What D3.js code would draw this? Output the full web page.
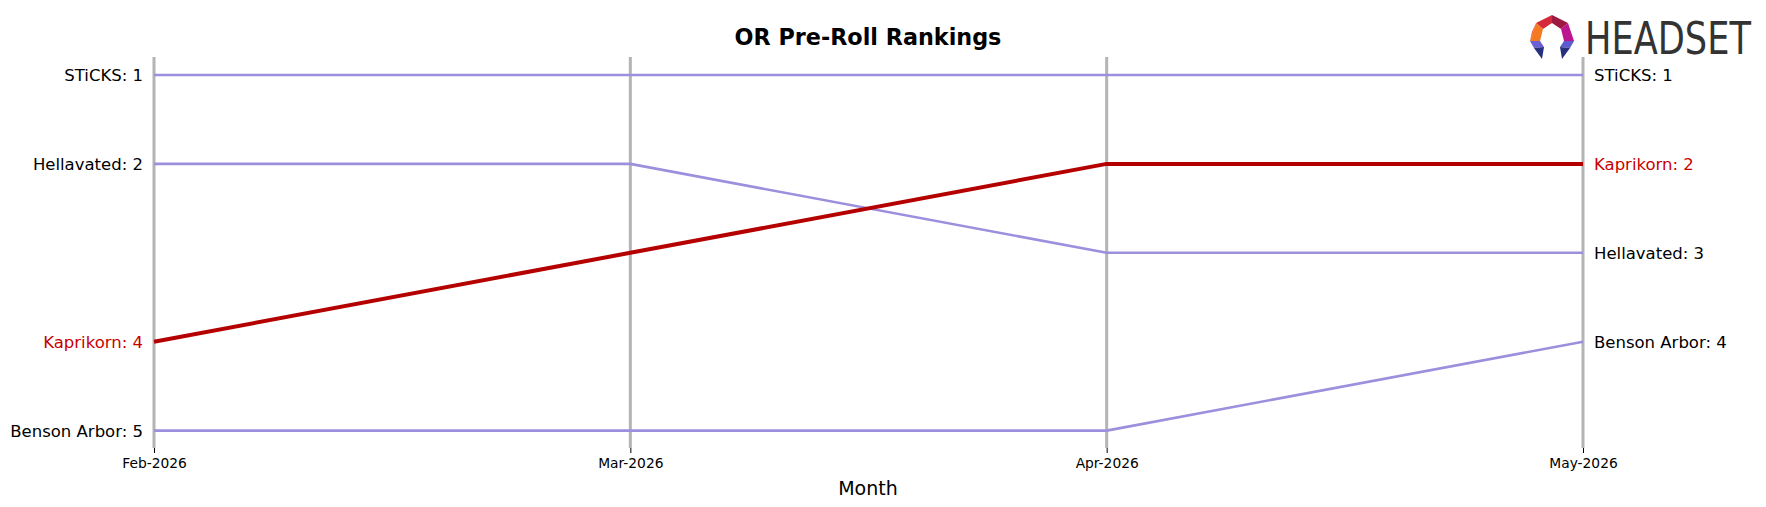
<!DOCTYPE html>
<html>
<head>
<meta charset="utf-8">
<script src="https://cdn.jsdelivr.net/npm/d3@7"></script>
<style>
  html, body { margin: 0; padding: 0; background: #fff; }
  svg { display: block; font-family: "DejaVu Sans", sans-serif; }
</style>
</head>
<body>
<svg id="chart" width="1766" height="507"></svg>
<script>
// ---- data ----
const months = ["Feb-2026", "Mar-2026", "Apr-2026", "May-2026"];
const brands = ["STiCKS", "Hellavated", "Kaprikorn", "Benson Arbor"];
const sticksRanks = [1, 1, 1, 1];
const hellavatedRanks = [2, 2, 3, 3];
const kaprikornRanks = [4, 3, 2, 2];
const bensonArborRanks = [5, 5, 5, 4];
const highlightBrand = "Kaprikorn";
const titleText = "OR Pre-Roll Rankings";
const xAxisLabel = "Month";

const series = [
  { name: brands[0], ranks: sticksRanks },
  { name: brands[1], ranks: hellavatedRanks },
  { name: brands[2], ranks: kaprikornRanks },
  { name: brands[3], ranks: bensonArborRanks }
];

// ---- layout ----
const svg = d3.select("#chart");
const x = d3.scalePoint().domain(months).range([154, 1583]);
const y = d3.scaleLinear().domain([1, 5]).range([75, 430.6]);

const purple = "#9d8fdd";
const red = "#b50000";
const redText = "#c80000";

// vertical gray month lines
svg.append("g").selectAll("line").data(months).join("line")
  .attr("x1", d => x(d)).attr("x2", d => x(d))
  .attr("y1", 57).attr("y2", 448)
  .attr("stroke", "#b4b4b4").attr("stroke-width", 3);

// x axis ticks
const xAxis = d3.axisBottom(x).tickSize(5).tickPadding(5);
const gx = svg.append("g").attr("transform", "translate(0,448)").call(xAxis);
gx.select(".domain").remove();
gx.selectAll(".tick line").attr("stroke", "#000").attr("stroke-width", 1);
gx.selectAll(".tick text").attr("font-size", 13.8).attr("fill", "#000")
  .attr("font-family", "DejaVu Sans, sans-serif");

// lines
const line = d3.line().x((d, i) => x(months[i])).y(d => y(d));
const ordered = series.filter(s => s.name !== highlightBrand)
  .concat(series.filter(s => s.name === highlightBrand));
svg.append("g").selectAll("path").data(ordered).join("path")
  .attr("d", d => line(d.ranks))
  .attr("fill", "none")
  .attr("stroke", d => d.name === highlightBrand ? red : purple)
  .attr("stroke-width", d => d.name === highlightBrand ? 4 : 2.6)
  .attr("stroke-linejoin", "round");

// left labels
svg.append("g").selectAll("text").data(series).join("text")
  .attr("x", x(months[0]) - 11)
  .attr("y", d => y(d.ranks[0]))
  .attr("dy", "0.36em")
  .attr("text-anchor", "end")
  .attr("font-size", 16.5)
  .attr("fill", d => d.name === highlightBrand ? redText : "#000")
  .text(d => `${d.name}: ${d.ranks[0]}`);

// right labels
svg.append("g").selectAll("text").data(series).join("text")
  .attr("x", x(months[months.length - 1]) + 11)
  .attr("y", d => y(d.ranks[d.ranks.length - 1]))
  .attr("dy", "0.36em")
  .attr("text-anchor", "start")
  .attr("font-size", 16.5)
  .attr("fill", d => d.name === highlightBrand ? redText : "#000")
  .text(d => `${d.name}: ${d.ranks[d.ranks.length - 1]}`);

// title
svg.append("text")
  .attr("x", 868).attr("y", 37).attr("dy", "0.36em")
  .attr("text-anchor", "middle")
  .attr("font-size", 22.3).attr("font-weight", "bold")
  .text(titleText);

// x-axis label
svg.append("text")
  .attr("x", 868).attr("y", 488).attr("dy", "0.36em")
  .attr("text-anchor", "middle")
  .attr("font-size", 19)
  .text(xAxisLabel);

// logo
const logo = svg.append("g").attr("transform", "translate(1529,15)");
const facets = [
  { c: "#d42a3a", p: [[23,0],[7,8],[14,14],[23,8]] },
  { c: "#9e1840", p: [[23,0],[23,8],[32,14],[39,8]] },
  { c: "#f47a22", p: [[7,8],[14,14],[11,26],[1,26]] },
  { c: "#e0452e", p: [[7,8],[1,26],[3,17]] },
  { c: "#bb1690", p: [[39,8],[32,14],[35,26],[45,26]] },
  { c: "#6b5fd6", p: [[1,26],[11,26],[15,32],[5,33]] },
  { c: "#26307e", p: [[5,33],[15,32],[13,44]] },
  { c: "#5b5bd0", p: [[45,26],[35,26],[31,32],[41,33]] },
  { c: "#26307e", p: [[41,33],[31,32],[33,44]] }
];
logo.selectAll("polygon").data(facets).join("polygon")
  .attr("points", d => d.p.map(q => q.join(",")).join(" "))
  .attr("fill", d => d.c);
const logoText = svg.append("text")
  .attr("font-size", 44)
  .attr("font-family", "DejaVu Sans, sans-serif")
  .attr("fill", "#333")
  .text("HEADSET");
const natural = logoText.node().getComputedTextLength();
logoText.attr("transform", `translate(1585,54) scale(${166 / natural},1)`);
</script>
</body>
</html>
